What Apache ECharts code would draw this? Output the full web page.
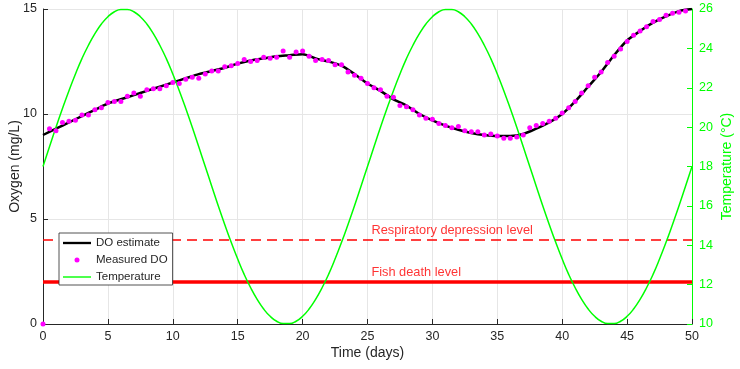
<!DOCTYPE html>
<html>
<head>
<meta charset="utf-8">
<script src="https://cdn.jsdelivr.net/npm/echarts@6/dist/echarts.min.js"></script>
<style>
    html, body { margin: 0; padding: 0; background: #fff; }
    #main { width: 740px; height: 369px; }
</style>
</head>
<body>
<div id="main"></div>
<script>
// DO estimate, one value per day (0..50)
const estimateDays = [0,1,2,3,4,5,6,7,8,9,10,11,12,13,14,15,16,17,18,19,20,21,22,23,24,25,
    26,27,28,29,30,31,32,33,34,35,36,37,38,39,40,41,42,43,44,45,46,47,48,49,50];
const doEstimate = [9.0, 9.3, 9.6, 9.9, 10.2, 10.5, 10.7, 10.9, 11.1, 11.3, 11.5,
    11.7, 11.9, 12.05, 12.2, 12.4, 12.55, 12.65, 12.75, 12.8, 12.85,
    12.65, 12.5, 12.3, 11.9, 11.45, 11.1, 10.7, 10.4, 10.0, 9.7,
    9.45, 9.25, 9.1, 9.0, 8.95, 8.95, 9.05, 9.3, 9.6, 10.0,
    10.6, 11.3, 12.0, 12.8, 13.5, 13.95, 14.35, 14.65, 14.9, 15.0];

// measured DO, every half day starting at day 0
const measuredStep = 0.5;
const doMeasured = [0, 9.3, 9.2, 9.6, 9.65, 9.7, 9.95, 9.95, 10.2, 10.3,
    10.55, 10.6, 10.6, 10.85, 11.0, 10.85, 11.15, 11.2, 11.2, 11.35,
    11.5, 11.45, 11.65, 11.75, 11.7, 11.9, 12.05, 12.05, 12.25, 12.3,
    12.4, 12.6, 12.5, 12.55, 12.7, 12.65, 12.7, 13.0, 12.7, 12.95,
    13.0, 12.75, 12.55, 12.6, 12.55, 12.35, 12.35, 12.0, 11.85, 11.7,
    11.45, 11.25, 11.15, 10.85, 10.8, 10.4, 10.35, 10.2, 9.95, 9.8,
    9.75, 9.55, 9.45, 9.35, 9.4, 9.2, 9.15, 9.15, 9.0, 9.05,
    8.95, 8.85, 8.85, 8.9, 9.0, 9.35, 9.45, 9.55, 9.65, 9.8,
    10.05, 10.3, 10.6, 11.0, 11.35, 11.75, 12.0, 12.45, 12.75, 13.1,
    13.45, 13.75, 13.95, 14.15, 14.4, 14.5, 14.7, 14.8, 14.85, 14.9];

// temperature (°C), every half day from 0 to 50
const tempStep = 0.5;
const temperature = [18.00, 19.00, 19.99, 20.94, 21.85, 22.70, 23.48, 24.16, 24.75, 25.24,
    25.61, 25.86, 25.98, 25.98, 25.86, 25.61, 25.24, 24.75, 24.16, 23.48,
    22.70, 21.85, 20.94, 19.99, 19.00, 18.00, 17.00, 16.01, 15.06, 14.15,
    13.30, 12.52, 11.84, 11.25, 10.76, 10.39, 10.14, 10.02, 10.02, 10.14,
    10.39, 10.76, 11.25, 11.84, 12.52, 13.30, 14.15, 15.06, 16.01, 17.00,
    18.00, 19.00, 19.99, 20.94, 21.85, 22.70, 23.48, 24.16, 24.75, 25.24,
    25.61, 25.86, 25.98, 25.98, 25.86, 25.61, 25.24, 24.75, 24.16, 23.48,
    22.70, 21.85, 20.94, 19.99, 19.00, 18.00, 17.00, 16.01, 15.06, 14.15,
    13.30, 12.52, 11.84, 11.25, 10.76, 10.39, 10.14, 10.02, 10.02, 10.14,
    10.39, 10.76, 11.25, 11.84, 12.52, 13.30, 14.15, 15.06, 16.01, 17.00,
    18.00];

// threshold levels
const levelNames = ['Respiratory depression level', 'Fish death level'];
const levelValues = [4, 2];
const levelLabelX = 25.3;
const levelLabelY = [4.43, 2.43];
const timeRange = [0, 50];

const seriesNames = ['DO estimate', 'Measured DO', 'Temperature'];

const FONT = 'Liberation Sans, Arial, sans-serif';
const INK = '#262626';
const GREEN = '#00ff00';

// legend line icons: 30x5 box, bar of given thickness in the middle
const thickBar = 'path://M0,0M30,5M0,1.25L30,1.25L30,3.75L0,3.75Z';
const thinBar = 'path://M0,0M30,5M0,1.75L30,1.75L30,3.25L0,3.25Z';

var myChart = echarts.init(document.getElementById('main'), null, { renderer: 'canvas' });

myChart.setOption({
    animation: false,
    textStyle: { fontFamily: FONT },
    grid: { left: 43, right: 48, top: 9, bottom: 45, containLabel: false, outerBoundsMode: 'none' },
    legend: {
        data: [
            { name: seriesNames[0], icon: thickBar },
            { name: seriesNames[1], icon: 'circle' },
            { name: seriesNames[2], icon: thinBar }
        ],
        orient: 'vertical',
        left: 59,
        top: 233,
        itemWidth: 28,
        itemHeight: 5,
        itemGap: 5,
        padding: [4, 5, 2, 4],
        backgroundColor: '#fff',
        borderColor: INK,
        borderWidth: 0.8,
        borderRadius: 0,
        textStyle: { fontSize: 11.5, color: INK, fontFamily: FONT }
    },
    xAxis: {
        type: 'value',
        min: timeRange[0],
        max: timeRange[1],
        interval: 5,
        name: 'Time (days)',
        nameLocation: 'middle',
        nameGap: 22,
        nameMoveOverlap: false,
        nameTextStyle: { fontSize: 14, color: INK },
        axisLine: { lineStyle: { color: INK, width: 1 } },
        axisTick: { inside: true, length: 5, lineStyle: { color: INK } },
        axisLabel: { fontSize: 12.5, color: INK, margin: 6 },
        splitLine: { show: true, lineStyle: { color: '#e6e6e6', width: 1 } }
    },
    yAxis: [
        {
            type: 'value',
            min: 0,
            max: 15,
            interval: 5,
            name: 'Oxygen (mg/L)',
            nameLocation: 'middle',
            nameGap: 21,
            nameMoveOverlap: false,
            nameTextStyle: { fontSize: 14, color: INK },
            axisLine: { show: true, lineStyle: { color: INK, width: 1 } },
            axisTick: { show: true, inside: true, length: 5, lineStyle: { color: INK } },
            axisLabel: { fontSize: 12.5, color: INK, margin: 6 },
            splitLine: { show: true, lineStyle: { color: '#e6e6e6', width: 1 } }
        },
        {
            type: 'value',
            position: 'right',
            min: 10,
            max: 26,
            interval: 2,
            name: 'Temperature (°C)',
            nameLocation: 'middle',
            nameGap: 28,
            nameMoveOverlap: false,
            nameTextStyle: { fontSize: 14, color: GREEN },
            axisLine: { show: true, lineStyle: { color: GREEN, width: 1 } },
            axisTick: { show: true, inside: true, length: 5, lineStyle: { color: GREEN } },
            axisLabel: { fontSize: 12.5, color: GREEN, margin: 7 },
            splitLine: { show: false }
        }
    ],
    series: [
        {
            name: 'levelDepression',
            type: 'line',
            symbol: 'none',
            silent: true,
            data: [[timeRange[0], levelValues[0]], [timeRange[1], levelValues[0]]],
            lineStyle: { color: '#ff0000', width: 1.5, type: [10, 6] },
            z: 2
        },
        {
            name: 'levelDeath',
            type: 'line',
            symbol: 'none',
            silent: true,
            data: [[timeRange[0], levelValues[1]], [timeRange[1], levelValues[1]]],
            lineStyle: { color: '#ff0000', width: 3.5 },
            z: 2
        },
        {
            name: 'levelLabels',
            type: 'scatter',
            symbolSize: 0,
            silent: true,
            data: levelNames.map((n, i) => [levelLabelX, levelLabelY[i], n]),
            label: {
                show: true,
                position: 'right',
                distance: 0,
                formatter: p => p.value[2],
                color: '#ff0000',
                fontSize: 12.8,
                fontFamily: FONT
            },
            z: 2
        },
        {
            name: seriesNames[0],
            type: 'line',
            symbol: 'none',
            smooth: 0.3,
            data: estimateDays.map((d, i) => [d, doEstimate[i]]),
            itemStyle: { color: '#000' },
            lineStyle: { color: '#000', width: 2.5 },
            z: 3
        },
        {
            name: seriesNames[1],
            type: 'scatter',
            symbol: 'circle',
            symbolSize: 5,
            data: doMeasured.map((v, i) => [i * measuredStep, v]),
            itemStyle: { color: '#ff00ff', opacity: 1 },
            z: 4
        },
        {
            name: seriesNames[2],
            type: 'line',
            yAxisIndex: 1,
            symbol: 'none',
            smooth: true,
            data: temperature.map((v, i) => [i * tempStep, v]),
            itemStyle: { color: GREEN },
            lineStyle: { color: GREEN, width: 1.5 },
            z: 3
        }
    ]
});
</script>
</body>
</html>
